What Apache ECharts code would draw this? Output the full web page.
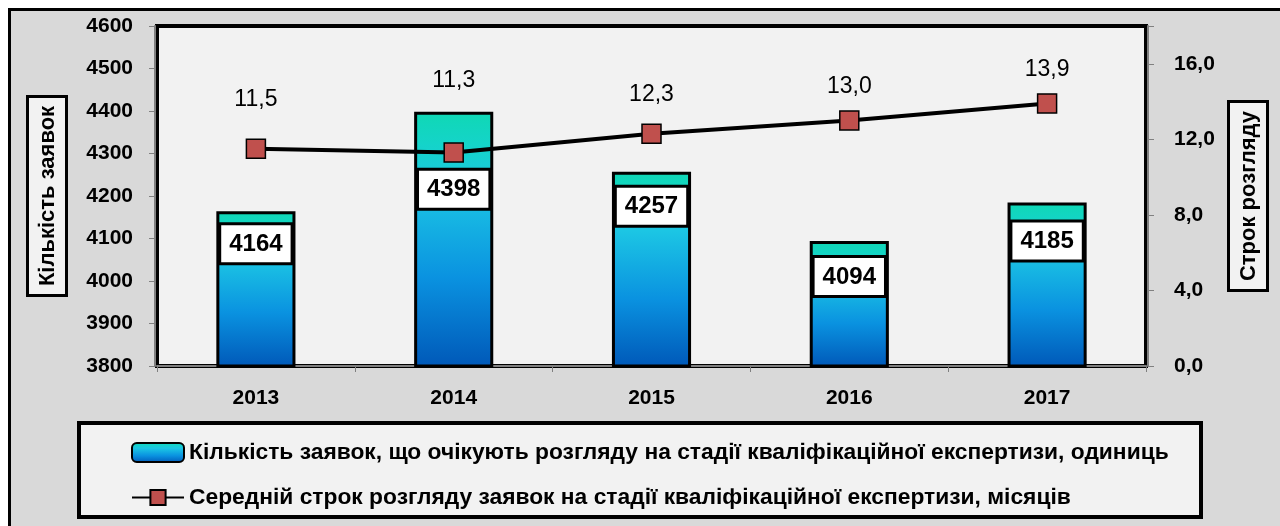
<!DOCTYPE html>
<html><head><meta charset="utf-8">
<script src="https://cdn.jsdelivr.net/npm/echarts@6/dist/echarts.min.js"></script>
<style>
html,body{margin:0;padding:0;background:#fff;overflow:hidden;width:1280px;height:526px;}
#frame{position:absolute;left:8px;top:8px;width:1400px;height:700px;background:#d9d9d9;border-left:3px solid #000;border-top:3px solid #000;}
#c{position:absolute;left:0;top:0;width:1280px;height:526px;}
</style>
</head><body><div id="frame"></div><div id="c"></div>
<script>
const categories = ['2013', '2014', '2015', '2016', '2017'];
const applications = [4164, 4398, 4257, 4094, 4185];
const durations = [11.5, 11.3, 12.3, 13.0, 13.9];
const leftTicks = [3800, 3900, 4000, 4100, 4200, 4300, 4400, 4500, 4600];
const rightTicks = [0, 4, 8, 12, 16];
const barName = 'Кількість заявок, що очікують розгляду на стадії кваліфікаційної експертизи, одиниць';
const lineName = 'Середній строк розгляду заявок на стадії кваліфікаційної експертизи, місяців';
const leftTitle = 'Кількість заявок';
const rightTitle = 'Строк розгляду';
const lineLabelGap = [27, 50, 17, 12, 12];
const barLabelGap = [14, 59, 16, 17, 20];

const FONT = 'Liberation Sans';
const comma = v => Number(v).toFixed(1).replace('.', ',');
const chart = echarts.init(document.getElementById('c'));
const nameBox = {
  fontFamily: FONT, fontWeight: 'bold', fontSize: 22, color: '#000',
  backgroundColor: '#f2f2f2', borderColor: '#000', borderWidth: 3,
  padding: [8, 8, 6, 8]
};
chart.setOption({
  animation: false,
  backgroundColor: 'transparent',
  graphic: [
    { type: 'rect', z: -5, shape: { x: 79, y: 423, width: 1122, height: 94 },
      style: { fill: '#f2f2f2', stroke: '#000', lineWidth: 4 } }
  ],
  grid: { left: 157, right: 134, top: 26, bottom: 160, show: true,
    backgroundColor: '#f2f2f2', borderColor: '#000', borderWidth: 4 },
  legend: {
    orient: 'vertical', left: 126, top: 436, itemWidth: 52, itemHeight: 19, itemGap: 22,
    textStyle: { fontFamily: FONT, fontWeight: 'bold', fontSize: 22.8, color: '#000' },
    data: [barName, lineName]
  },
  xAxis: {
    type: 'category', data: categories, offset: 2,
    axisLine: { lineStyle: { color: '#808080', width: 2 } },
    axisTick: { show: true, length: 6, lineStyle: { color: '#808080' } },
    axisLabel: { fontFamily: FONT, fontWeight: 'bold', fontSize: 21, color: '#000', margin: 20 }
  },
  yAxis: [
    { type: 'value', min: leftTicks[0], max: leftTicks[leftTicks.length - 1], interval: 100, offset: 2,
      name: leftTitle, nameLocation: 'middle', nameRotate: 90, nameGap: 90, nameTextStyle: nameBox,
      axisLine: { show: true, lineStyle: { color: '#808080', width: 2 } },
      axisTick: { show: true, length: 6, lineStyle: { color: '#808080' } },
      splitLine: { show: false },
      axisLabel: { fontFamily: FONT, fontWeight: 'bold', fontSize: 21, color: '#000', margin: 22,
        formatter: v => String(v) } },
    { type: 'value', min: 0, max: 18, interval: 4, offset: 2, position: 'right',
      name: rightTitle, nameLocation: 'middle', nameRotate: 90, nameGap: 82, nameTextStyle: nameBox,
      axisLine: { show: true, lineStyle: { color: '#808080', width: 2 } },
      axisTick: { show: true, length: 6, lineStyle: { color: '#808080' } },
      splitLine: { show: false },
      axisLabel: { fontFamily: FONT, fontWeight: 'bold', fontSize: 21, color: '#000', margin: 26,
        formatter: v => rightTicks.includes(v) ? comma(v) : '' } }
  ],
  series: [
    { name: barName, type: 'bar', barWidth: '40%', z: 2,
      data: applications.map((v, i) => ({ value: v, label: { distance: barLabelGap[i] } })),
      itemStyle: {
        borderColor: '#000', borderWidth: 3,
        color: new echarts.graphic.LinearGradient(0, 0, 0, 1, [
          { offset: 0, color: '#0fd8b4' },
          { offset: 0.12, color: '#14d4c8' },
          { offset: 0.3, color: '#1cc6e4' },
          { offset: 0.65, color: '#0a92e0' },
          { offset: 1, color: '#0058b8' }
        ])
      },
      label: { show: true, position: 'insideTop',
        fontFamily: FONT, fontWeight: 'bold', fontSize: 24, color: '#000',
        backgroundColor: '#fff', borderColor: '#000', borderWidth: 3, padding: [7, 8, 6, 8] }
    },
    { name: lineName, type: 'line', yAxisIndex: 1, z: 5,
      data: durations.map((v, i) => ({ value: v, label: { distance: lineLabelGap[i] } })),
      symbol: 'rect', symbolSize: 19,
      lineStyle: { color: '#000', width: 4 },
      itemStyle: { color: '#c0504d', borderColor: '#000', borderWidth: 1.5 },
      label: { show: true, position: 'top', formatter: p => comma(p.value),
        fontFamily: FONT, fontSize: 23, color: '#000', lineHeight: 24 }
    }
  ]
});
</script></body></html>
